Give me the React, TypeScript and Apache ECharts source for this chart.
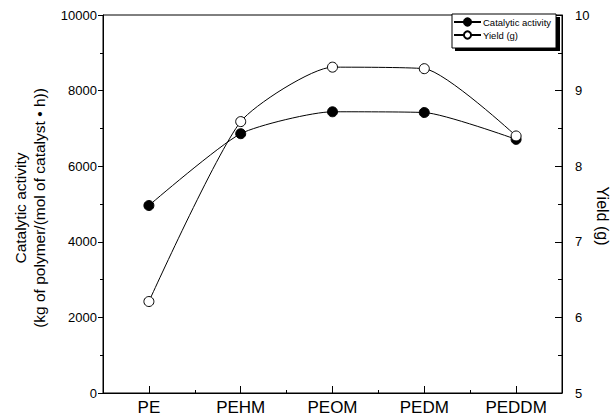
import React, { useEffect, useRef } from "react";
import * as echarts from "echarts";

const categories = ["PE", "PEHM", "PEOM", "PEDM", "PEDDM"];
const activity = [4960, 6860, 7440, 7420, 6710];
const yieldG = [6.21, 8.59, 9.31, 9.29, 8.4];
const leftTicks = { min: 0, max: 10000, interval: 2000 };
const rightTicks = { min: 5, max: 10, interval: 1 };

const FONT = "Liberation Sans, Arial, sans-serif";

export default function App() {
  const ref = useRef<HTMLDivElement>(null);
  useEffect(() => {
    if (!ref.current) return;
    const chart = echarts.init(ref.current, null, { renderer: "svg" });
    const gridL = 103, gridR = 49, gridT = 15, gridB = 26;
    chart.setOption({
      animation: false,
      textStyle: { fontFamily: FONT, color: "#000" },
      grid: { left: gridL, right: gridR, top: gridT, bottom: gridB, show: true, borderColor: "#000", borderWidth: 1, backgroundColor: "transparent" },
      legend: {
        orient: "vertical",
        left: 452,
        top: 15,
        padding: [2, 4, 2, 1],
        itemGap: 3,
        itemWidth: 27,
        itemHeight: 9,
        textStyle: { fontSize: 9.5, fontFamily: FONT, color: "#000", padding: [0, 0, 0, -3] },
        z: 10,
        data: ["Catalytic activity", "Yield (g)"],
      },
      graphic: [
        { type: "rect", z: 5, shape: { x: 455, y: 17, width: 105, height: 34 }, style: { fill: "#000" } },
        { type: "rect", z: 6, shape: { x: 452, y: 14, width: 104, height: 34 }, style: { fill: "#fff", stroke: "#000", lineWidth: 1 } },
        {
          type: "text", x: 30, y: 208, rotation: Math.PI / 2, z: 10,
          style: { text: "Catalytic activity\n(kg of polymer/(mol of catalyst \u2022 h))", fontSize: 15.5, fontFamily: FONT, fill: "#000", align: "center", verticalAlign: "middle", lineHeight: 18.5 },
        },
        {
          type: "text", x: 602, y: 216, rotation: -Math.PI / 2, z: 10,
          style: { text: "Yield (g)", fontSize: 16, fontFamily: FONT, fill: "#000", align: "center", verticalAlign: "middle" },
        },
      ],
      xAxis: [
        {
          type: "category",
          data: categories,
          boundaryGap: true,
          axisLine: { lineStyle: { color: "#000", width: 1 } },
          axisTick: { show: true, alignWithLabel: true, inside: true, length: 7, lineStyle: { color: "#000" } },
          axisLabel: { fontSize: 17, color: "#000", margin: 6, fontFamily: FONT },
          splitLine: { show: false },
        },
        {
          type: "category",
          data: categories,
          boundaryGap: true,
          position: "bottom",
          axisLine: { show: false },
          axisTick: { show: true, inside: true, length: 3, lineStyle: { color: "#000" } },
          axisLabel: { show: false },
          splitLine: { show: false },
        },
      ],
      yAxis: [
        {
          type: "value",
          ...leftTicks,
          position: "left",
          axisLine: { show: true, lineStyle: { color: "#000" } },
          axisTick: { show: true, inside: false, length: 5, lineStyle: { color: "#000" } },
          minorTick: { show: true, splitNumber: 2, length: 3, lineStyle: { color: "#000" } },
          axisLabel: { fontSize: 13, color: "#000", margin: 6, fontFamily: FONT, formatter: (v: number) => String(v) },
          splitLine: { show: false },
        },
        {
          type: "value",
          ...rightTicks,
          position: "right",
          axisLine: { show: true, lineStyle: { color: "#000" } },
          axisTick: { show: true, inside: true, length: 7, lineStyle: { color: "#000" } },
          minorTick: { show: true, splitNumber: 2, length: 4, lineStyle: { color: "#000" } },
          axisLabel: { fontSize: 13, color: "#000", margin: 13, fontFamily: FONT, formatter: (v: number) => String(v) },
          splitLine: { show: false },
        },
      ],
      series: [
        {
          name: "Catalytic activity",
          type: "line",
          xAxisIndex: 0,
          yAxisIndex: 0,
          data: activity,
          smooth: 0.2,
          symbol: "circle",
          symbolSize: 10,
          lineStyle: { color: "#000", width: 1 },
          itemStyle: { color: "#000", borderColor: "#000", borderWidth: 1 },
          z: 3,
        },
        {
          name: "Yield (g)",
          type: "line",
          xAxisIndex: 0,
          yAxisIndex: 1,
          data: yieldG,
          smooth: 0.2,
          symbol: "circle",
          symbolSize: 10,
          lineStyle: { color: "#000", width: 1 },
          itemStyle: { color: "#fff", borderColor: "#000", borderWidth: 1 },
          z: 4,
        },
      ],
    });
    return () => chart.dispose();
  }, []);
  return <div ref={ref} style={{ width: 611, height: 419, position: "absolute", left: 0, top: 0 }} />;
}
